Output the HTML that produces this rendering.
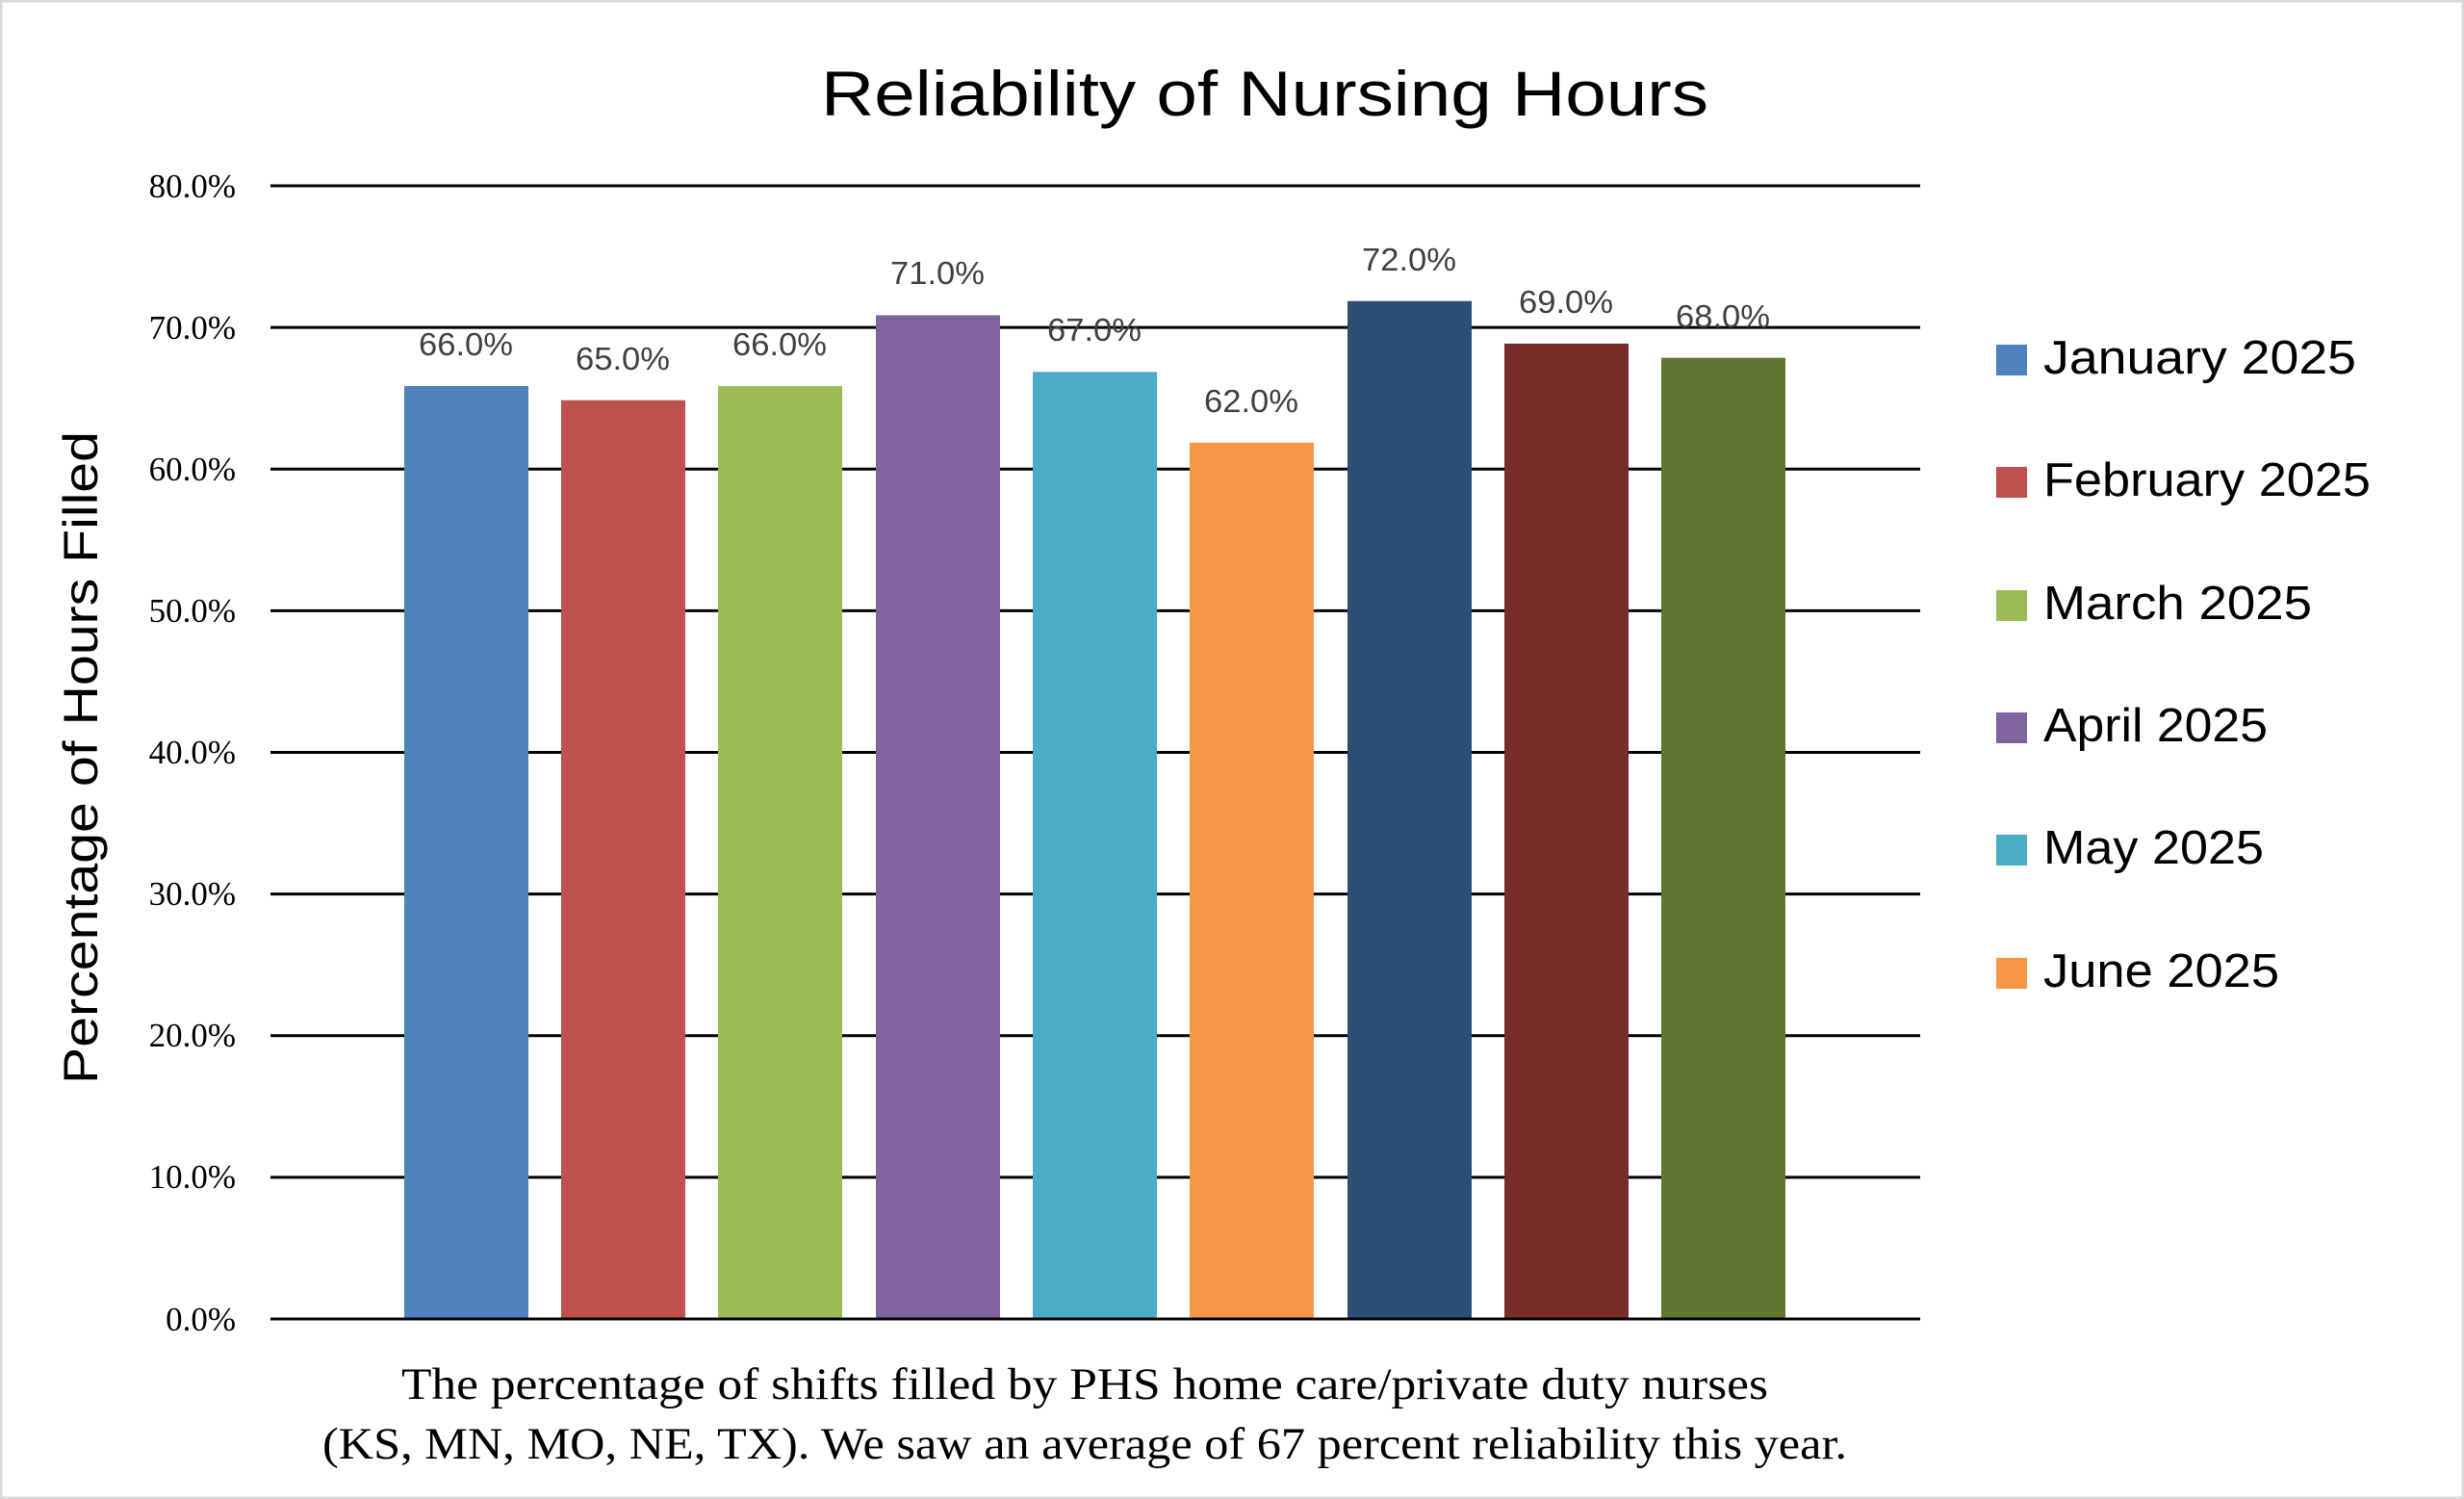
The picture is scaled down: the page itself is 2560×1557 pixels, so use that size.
<!DOCTYPE html>
<html><head><meta charset="utf-8"><style>
html,body{margin:0;padding:0;background:#fff}
svg{display:block}
</style></head><body>
<svg width="2560" height="1557" viewBox="0 0 2560 1557" xmlns="http://www.w3.org/2000/svg">
<rect x="1" y="1" width="2558" height="1555" fill="#fff" stroke="#d9d9d9" stroke-width="3"/>
<text x="1314" y="120" font-family="Liberation Sans, sans-serif" font-size="66" text-anchor="middle" fill="#000" textLength="922" lengthAdjust="spacingAndGlyphs">Reliability of Nursing Hours</text>
<g stroke="#000" stroke-width="3">
<line x1="281" x2="1995" y1="193" y2="193"/>
<line x1="281" x2="1995" y1="340.1" y2="340.1"/>
<line x1="281" x2="1995" y1="487.3" y2="487.3"/>
<line x1="281" x2="1995" y1="634.4" y2="634.4"/>
<line x1="281" x2="1995" y1="781.5" y2="781.5"/>
<line x1="281" x2="1995" y1="928.6" y2="928.6"/>
<line x1="281" x2="1995" y1="1075.8" y2="1075.8"/>
<line x1="281" x2="1995" y1="1222.9" y2="1222.9"/>
</g>
<g font-family="Liberation Serif, serif" font-size="35" text-anchor="end" fill="#000">
<text x="245" y="205">80.0%</text>
<text x="245" y="352">70.0%</text>
<text x="245" y="499">60.0%</text>
<text x="245" y="646">50.0%</text>
<text x="245" y="793">40.0%</text>
<text x="245" y="940">30.0%</text>
<text x="245" y="1087">20.0%</text>
<text x="245" y="1234">10.0%</text>
<text x="245" y="1382">0.0%</text>
</g>
<g>
<rect x="420" y="401.0" width="129" height="969.0" fill="#4F81BD"/>
<rect x="583" y="415.7" width="129" height="954.3" fill="#C0504D"/>
<rect x="746" y="401.0" width="129" height="969.0" fill="#9BBB59"/>
<rect x="910" y="327.4" width="129" height="1042.6" fill="#8064A2"/>
<rect x="1073" y="386.3" width="129" height="983.7" fill="#4BACC6"/>
<rect x="1236" y="459.8" width="129" height="910.2" fill="#F79646"/>
<rect x="1400" y="312.7" width="129" height="1057.3" fill="#2C4D75"/>
<rect x="1563" y="356.9" width="129" height="1013.1" fill="#772C2A"/>
<rect x="1726" y="371.6" width="129" height="998.4" fill="#5F7530"/>
</g>
<line x1="281" x2="1995" y1="1370" y2="1370" stroke="#000" stroke-width="3"/>
<g font-family="Liberation Sans, sans-serif" font-size="33" text-anchor="middle" fill="#404040">
<text x="484" y="369" textLength="98" lengthAdjust="spacingAndGlyphs">66.0%</text>
<text x="647" y="384" textLength="98" lengthAdjust="spacingAndGlyphs">65.0%</text>
<text x="810" y="369" textLength="98" lengthAdjust="spacingAndGlyphs">66.0%</text>
<text x="974" y="295" textLength="98" lengthAdjust="spacingAndGlyphs">71.0%</text>
<text x="1137" y="354" textLength="98" lengthAdjust="spacingAndGlyphs">67.0%</text>
<text x="1300" y="428" textLength="98" lengthAdjust="spacingAndGlyphs">62.0%</text>
<text x="1464" y="281" textLength="98" lengthAdjust="spacingAndGlyphs">72.0%</text>
<text x="1627" y="325" textLength="98" lengthAdjust="spacingAndGlyphs">69.0%</text>
<text x="1790" y="340" textLength="98" lengthAdjust="spacingAndGlyphs">68.0%</text>
</g>
<text transform="translate(101,787) rotate(-90)" font-family="Liberation Sans, sans-serif" font-size="50" text-anchor="middle" fill="#000" textLength="678" lengthAdjust="spacingAndGlyphs">Percentage of Hours Filled</text>
<g font-family="Liberation Sans, sans-serif" font-size="49" fill="#000">
<rect x="2074" y="358" width="32" height="32" fill="#4F81BD"/><text x="2123" y="388" textLength="325" lengthAdjust="spacingAndGlyphs">January 2025</text>
<rect x="2074" y="485" width="32" height="32" fill="#C0504D"/><text x="2123" y="515" textLength="340" lengthAdjust="spacingAndGlyphs">February 2025</text>
<rect x="2074" y="613" width="32" height="32" fill="#9BBB59"/><text x="2123" y="643" textLength="279" lengthAdjust="spacingAndGlyphs">March 2025</text>
<rect x="2074" y="740" width="32" height="32" fill="#8064A2"/><text x="2123" y="770" textLength="233" lengthAdjust="spacingAndGlyphs">April 2025</text>
<rect x="2074" y="867" width="32" height="32" fill="#4BACC6"/><text x="2123" y="897" textLength="229" lengthAdjust="spacingAndGlyphs">May 2025</text>
<rect x="2074" y="995" width="32" height="32" fill="#F79646"/><text x="2123" y="1025" textLength="245" lengthAdjust="spacingAndGlyphs">June 2025</text>
</g>
<g font-family="Liberation Serif, serif" font-size="47" text-anchor="middle" fill="#000">
<text x="1127" y="1453" textLength="1420" lengthAdjust="spacingAndGlyphs">The percentage of  shifts filled by PHS home care/private duty nurses</text>
<text x="1127" y="1515" textLength="1584" lengthAdjust="spacingAndGlyphs">(KS, MN, MO, NE, TX). We saw an average of  67 percent reliability this year.</text>
</g>
</svg>
</body></html>
